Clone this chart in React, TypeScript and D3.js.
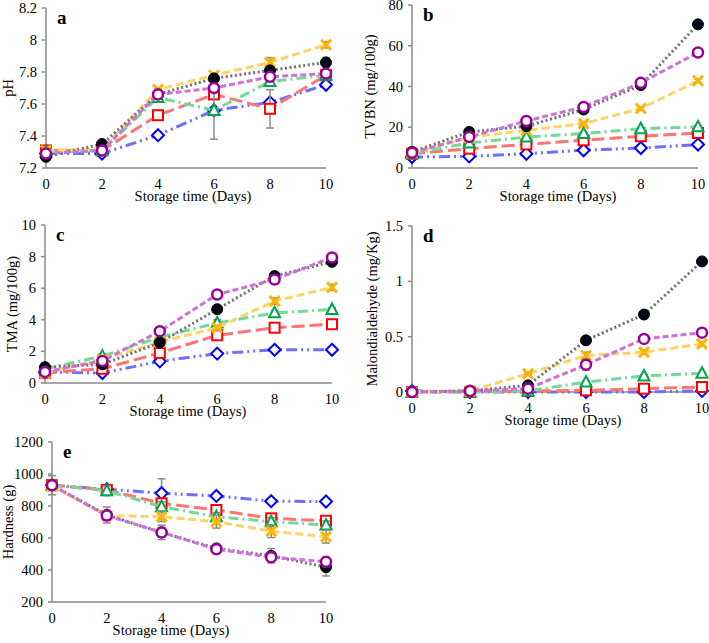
import React from 'react';
import * as d3 from 'd3';

// storage days on the x axis
const days = [0, 2, 4, 6, 8, 10];

// series order: blue diamond, red square, green triangle, orange cross, black dot, purple ring
const phValues = [
  [7.29, 7.29, 7.405, 7.56, 7.61, 7.72],
  [7.31, 7.31, 7.53, 7.66, 7.57, 7.78],
  [7.3, 7.31, 7.64, 7.56, 7.74, 7.78],
  [7.31, 7.32, 7.69, 7.78, 7.86, 7.97],
  [7.27, 7.35, 7.66, 7.76, 7.81, 7.86],
  [7.29, 7.31, 7.66, 7.7, 7.77, 7.79],
];
const phErrors = [
  [0.01, 0.01, 0.01, 0.01, 0.01, 0.01],
  [0.01, 0.01, 0.01, 0.01, 0.12, 0.01],
  [0.01, 0.01, 0.01, 0.18, 0.02, 0.02],
  [0.01, 0.01, 0.01, 0.01, 0.03, 0.02],
  [0.01, 0.01, 0.02, 0.02, 0.02, 0.03],
  [0.01, 0.01, 0.01, 0.01, 0.01, 0.01],
];

const tvbnValues = [
  [5.4, 5.7, 7, 8.7, 9.8, 11.5],
  [7, 9.5, 11.6, 13.6, 15.6, 17.2],
  [7, 12.3, 15.2, 16.9, 19.3, 20.2],
  [7.5, 15, 18.5, 21.8, 29.2, 42.8],
  [7.9, 17.7, 20.5, 28.7, 40.7, 70.5],
  [7.5, 15.2, 23.1, 30, 41.8, 56.7],
];
const tvbnErrors = [
  [0.3, 0.3, 0.4, 0.4, 0.5, 0.5],
  [0.3, 0.4, 0.4, 0.5, 0.5, 0.6],
  [0.3, 0.4, 0.5, 0.5, 0.6, 0.6],
  [0.3, 0.5, 0.5, 0.6, 0.8, 0.9],
  [0.3, 0.6, 0.6, 0.8, 0.9, 1.0],
  [0.3, 0.5, 0.6, 0.8, 0.9, 1.0],
];

const tmaValues = [
  [0.7, 0.63, 1.37, 1.86, 2.1, 2.1],
  [0.65, 0.9, 1.9, 3.02, 3.5, 3.72],
  [0.9, 1.7, 2.9, 3.8, 4.44, 4.65],
  [0.63, 1.5, 2.6, 3.5, 5.18, 6.05],
  [1.0, 1.18, 2.56, 4.67, 6.77, 7.67],
  [0.7, 1.4, 3.28, 5.6, 6.55, 7.95],
];
const tmaErrors = [
  [0.05, 0.05, 0.08, 0.08, 0.1, 0.1],
  [0.05, 0.08, 0.1, 0.1, 0.1, 0.1],
  [0.05, 0.15, 0.1, 0.2, 0.15, 0.1],
  [0.05, 0.1, 0.1, 0.15, 0.2, 0.2],
  [0.05, 0.1, 0.15, 0.15, 0.15, 0.2],
  [0.05, 0.1, 0.1, 0.1, 0.1, 0.15],
];

const mdaValues = [
  [0.01, 0, 0, 0, 0, 0.01],
  [0, 0, 0.01, 0.015, 0.03, 0.045],
  [0, 0, 0.01, 0.09, 0.145, 0.17],
  [0, 0.01, 0.165, 0.33, 0.36, 0.435],
  [0, 0.01, 0.06, 0.467, 0.7, 1.18],
  [0, 0.01, 0.03, 0.247, 0.48, 0.536],
];
const mdaErrors = [
  [0.005, 0.005, 0.005, 0.005, 0.005, 0.005],
  [0.005, 0.005, 0.005, 0.005, 0.005, 0.005],
  [0.005, 0.005, 0.005, 0.01, 0.01, 0.01],
  [0.005, 0.005, 0.01, 0.03, 0.02, 0.02],
  [0.005, 0.005, 0.01, 0.03, 0.02, 0.02],
  [0.005, 0.005, 0.01, 0.05, 0.02, 0.02],
];

const hardnessValues = [
  [930, 905, 880, 863, 830, 828],
  [930, 900, 817, 775, 723, 708],
  [930, 895, 796, 733, 702, 681],
  [925, 740, 733, 702, 643, 608],
  [930, 744, 635, 535, 489, 418],
  [930, 740, 635, 530, 480, 451],
];
const hardnessErrors = [
  [20, 20, 90, 15, 15, 15],
  [20, 20, 20, 20, 20, 30],
  [60, 30, 30, 25, 25, 25],
  [20, 30, 30, 40, 40, 40],
  [20, 50, 30, 20, 45, 55],
  [20, 30, 45, 30, 30, 30],
];

const phTicks = [7.2, 7.4, 7.6, 7.8, 8, 8.2];
const tvbnTicks = [0, 20, 40, 60, 80];
const tmaTicks = [0, 2, 4, 6, 8, 10];
const mdaTicks = [0, 0.5, 1, 1.5];
const hardnessTicks = [200, 400, 600, 800, 1000, 1200];

const series = [
  { line: '#6e6eff', dash: '11,4,2,4,2,4', marker: 'diamond', color: '#0000ff' },
  { line: '#ff7474', dash: '13,5', marker: 'square', color: '#ff0000' },
  { line: '#74d898', dash: '10,4,2,4', marker: 'triangle', color: '#00a550' },
  { line: '#ffd466', dash: '8,4', marker: 'cross', color: '#ffb400' },
  { line: '#707070', dash: '2,2.6', marker: 'dot', color: '#000000' },
  { line: '#cc72da', dash: '6,3', marker: 'ring', color: '#990099' },
];

const FONT = 'Liberation Serif, Times New Roman, serif';

function Marker({ kind, color, x, y }) {
  const t = `translate(${x},${y})`;
  if (kind === 'diamond')
    return <path transform={t} d="M0,-6L6,0L0,6L-6,0Z" fill="#fff" stroke={color} strokeWidth={2} />;
  if (kind === 'square')
    return <rect transform={t} x={-5} y={-5} width={10} height={10} fill="#fff" stroke={color} strokeWidth={2} />;
  if (kind === 'triangle')
    return <path transform={t} d="M0,-6L5.5,4.5L-5.5,4.5Z" fill="#fff" stroke={color} strokeWidth={2} />;
  if (kind === 'cross')
    return (
      <g transform={t} stroke={color} strokeWidth={3}>
        <line x1={-5} y1={-5} x2={5} y2={5} />
        <line x1={-5} y1={5} x2={5} y2={-5} />
      </g>
    );
  if (kind === 'dot') return <circle transform={t} r={5.5} fill="#000814" stroke="#000" strokeWidth={1} />;
  return <circle transform={t} r={5} fill="#fff" stroke={color} strokeWidth={2.5} />;
}

function Panel({ p }) {
  const x = d3.scaleLinear().domain([0, 10]).range([p.left, p.right]);
  const y = d3.scaleLinear().domain(p.domain).range([p.bottom, p.top]);
  const line = d3
    .line<number>()
    .x((_, i) => x(days[i]))
    .y((d) => y(d));
  const txt = { fontFamily: FONT, fontWeight: 400 };

  return (
    <g>
      {/* axes */}
      <line x1={p.left} x2={p.left} y1={p.top} y2={p.bottom} stroke="#8a8a8a" strokeWidth={1.5} />
      <line x1={p.left} x2={p.right} y1={p.bottom} y2={p.bottom} stroke="#8a8a8a" strokeWidth={1.5} />
      {p.ticks.map((t) => (
        <g key={t}>
          <line x1={p.left - 4} x2={p.left} y1={y(t)} y2={y(t)} stroke="#8a8a8a" strokeWidth={1.5} />
          <text style={txt} x={p.left - 9} y={y(t) + 5} textAnchor="end" fontSize={14.5} fill="#000">
            {String(t)}
          </text>
        </g>
      ))}
      {days.map((d) => (
        <text style={txt} key={d} x={x(d)} y={p.bottom + 21} textAnchor="middle" fontSize={14.5} fill="#000">
          {d}
        </text>
      ))}
      <text style={txt} x={p.titleX} y={p.bottom + 33} textAnchor="middle" fontSize={14.5} fill="#000">
        Storage time (Days)
      </text>
      <text
        style={txt}
        transform={`translate(${p.yLabelX},${(p.top + p.bottom) / 2}) rotate(-90)`}
        textAnchor="middle"
        fontSize={14.5}
        fill="#000"
      >
        {p.yLabel}
      </text>
      <text style={{ fontFamily: FONT, fontWeight: 700 }} x={p.left + 11} y={p.top + 16} fontSize={19} fill="#000">
        {p.letter}
      </text>

      {/* series */}
      {p.values.map((vals, si) => {
        const s = series[si];
        return (
          <g key={si}>
            <path d={line(vals)} fill="none" stroke={s.line} strokeWidth={3} strokeDasharray={s.dash} />
            {vals.map((v, i) => {
              const e = p.errors[si][i];
              const cx = x(days[i]);
              return (
                <g key={i} stroke="#8c8c8c" strokeWidth={1.5}>
                  <line x1={cx} x2={cx} y1={y(v - e)} y2={y(v + e)} />
                  <line x1={cx - 4} x2={cx + 4} y1={y(v - e)} y2={y(v - e)} />
                  <line x1={cx - 4} x2={cx + 4} y1={y(v + e)} y2={y(v + e)} />
                </g>
              );
            })}
            {vals.map((v, i) => (
              <Marker key={i} kind={s.marker} color={s.color} x={x(days[i])} y={y(v)} />
            ))}
          </g>
        );
      })}
    </g>
  );
}

const panels = [
  {
    letter: 'a', values: phValues, errors: phErrors, ticks: phTicks, domain: [7.2, 8.2],
    left: 46, right: 326, top: 8, bottom: 168, yLabel: 'pH', yLabelX: 13, titleX: 193,
  },
  {
    letter: 'b', values: tvbnValues, errors: tvbnErrors, ticks: tvbnTicks, domain: [0, 80],
    left: 412, right: 698, top: 5, bottom: 168, yLabel: 'TVBN (mg/100g)', yLabelX: 375, titleX: 558,
  },
  {
    letter: 'c', values: tmaValues, errors: tmaErrors, ticks: tmaTicks, domain: [0, 10],
    left: 45, right: 332, top: 225, bottom: 383, yLabel: 'TMA (mg/100g)', yLabelX: 17, titleX: 188,
  },
  {
    letter: 'd', values: mdaValues, errors: mdaErrors, ticks: mdaTicks, domain: [0, 1.5],
    left: 412, right: 702, top: 226, bottom: 392, yLabel: 'Malondialdehyde (mg/Kg)', yLabelX: 377, titleX: 563,
  },
  {
    letter: 'e', values: hardnessValues, errors: hardnessErrors, ticks: hardnessTicks, domain: [200, 1200],
    left: 52, right: 326, top: 442, bottom: 602, yLabel: 'Hardness (g)', yLabelX: 13, titleX: 171,
  },
];

export default function App() {
  return (
    <svg
      width={709}
      height={643}
      style={{ position: 'absolute', left: 0, top: 0, background: '#fff' }}
    >
      <rect width={709} height={643} fill="#fff" />
      {panels.map((p) => (
        <Panel key={p.letter} p={p} />
      ))}
    </svg>
  );
}
